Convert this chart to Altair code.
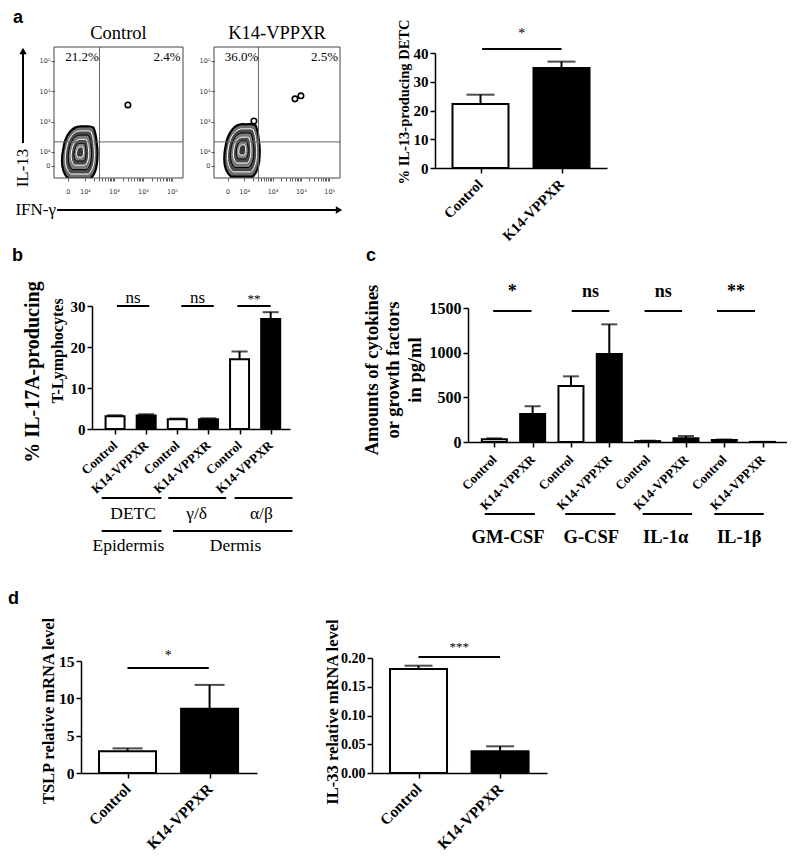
import altair as alt
import pandas as pd
import numpy as np

SERIF = "Liberation Serif"
SANS = "Liberation Sans"

# ---------------- data ----------------
groups2 = ["Control", "K14-VPPXR"]
bar_fills2 = ["white", "black"]

# panel a (bar)
a_vals = [22.3, 34.8]
a_hi = [25.5, 37.0]
# panel a (flow)
flow_pct_ctrl = ["21.2%", "2.4%"]
flow_pct_k14 = ["36.0%", "2.5%"]
flow_pct_x = [1.9, 4.83]
flow_pct_y = [5.13, 5.13]
flow_major = [1.41, 2, 3, 4, 5]
flow_major_lab = ["0", "10²", "10³", "10⁴", "10⁵"]
flow_ymajor = [1.54, 2, 3, 4, 5]
blob_ctrl = (1.83, 2.0)
blob_k14 = (1.93, 2.07)
blob_sizes = [2900, 1950, 1250, 700, 330, 110]
blob_fill = ["#6e6e6e", "#4a4a4a", "#7a7a7a", "#4a4a4a", "#808080", "#3a3a3a"]
blob_stroke = ["black", "white", "black", "white", "black", "white"]
blob_sw = [2.2, 1.0, 1.0, 1.0, 1.0, 1.0]
small_ctrl_x = [3.48]
small_ctrl_y = [3.55]
small_k14_x = [3.79, 4.0, 2.34]
small_k14_y = [3.75, 3.85, 3.02]
quad_x = 2.5
quad_y = 2.33

# panel b
b_labels = ["Control", "K14-VPPXR"] * 3
b_vals = [3.1, 3.3, 2.4, 2.4, 17.0, 26.8]
b_hi = [3.35, 3.6, 2.55, 2.6, 18.9, 28.5]
b_fills = ["white", "black"] * 3
b_sig_x1 = [0.06, 2.13, 3.93]
b_sig_x2 = [1.1, 3.17, 5.0]
b_sig_lab = ["ns", "ns", "**"]
b_sig_fs = [17, 17, 13]
b_g1_x1 = [-0.43, 1.71, 3.84]
b_g1_x2 = [1.49, 3.57, 5.7]
b_g1_lab = ["DETC", "γ/δ", "α/β"]
b_g1_tx = [0.58, 2.62, 4.7]
b_g2_x1 = [-0.43, 1.86]
b_g2_x2 = [1.49, 5.7]
b_g2_lab = ["Epidermis", "Dermis"]
b_g2_tx = [0.43, 3.87]

# panel c
c_labels = ["Control", "K14-VPPXR"] * 4
c_vals = [30, 313, 627, 985, 10, 41, 22, 1]
c_hi = [41, 399, 735, 1317, 15, 67, 28, 1]
c_fills = ["white", "black"] * 4
c_sig_x1 = [-0.03, 2.02, 3.92, 5.81]
c_sig_x2 = [0.97, 3.0, 4.9, 6.8]
c_sig_lab = ["*", "ns", "ns", "**"]
c_sig_fs = [18, 18, 18, 18]
c_g_x1 = [-0.25, 1.85, 3.87, 5.74]
c_g_x2 = [1.06, 3.16, 5.16, 7.03]
c_g_lab = ["GM-CSF", "G-CSF", "IL-1α", "IL-1β"]
c_g_tx = [0.36, 2.53, 4.47, 6.39]

# panel d
tslp_vals = [2.9, 8.6]
tslp_hi = [3.3, 11.8]
il33_vals = [0.181, 0.0377]
il33_hi = [0.1866, 0.0464]

one = pd.DataFrame({"k": [0]})


def text_mark(text, x, y, size, weight="normal", angle=0, align="center",
              baseline="middle", font=SERIF):
    kw = dict(text=text, fontSize=size, fontWeight=weight, align=align,
              baseline=baseline, font=font, color="black")
    if angle:
        kw["angle"] = angle
    return alt.Chart(one).mark_text(**kw).encode(x=alt.value(x), y=alt.value(y))


def spacer(width, top=0, bottom=1, label=None, lx=0, ly=0):
    layers = [alt.Chart(one).mark_rule(opacity=0).encode(
        x=alt.value(0), y=alt.value(top), y2=alt.value(bottom))]
    if label:
        layers.append(text_mark(label, lx, ly, 18, "bold", align="left", font=SANS))
    return alt.layer(*layers).properties(width=width, height=1)


def bar_panel(vals, his, labels, fills, width, height, top, ydom, yticks, yfmt,
              ysize, xdom, bar_w, cap_w, lsize, langle, lpad):
    n = len(vals)
    df = pd.DataFrame({"pos": list(range(n)), "val": vals, "hi": his, "fill": fills})
    expr = "[" + ",".join("'%s'" % l for l in labels) + "][datum.value]"
    xs = alt.Scale(domain=xdom, nice=False, zero=False)
    ys = alt.Scale(domain=ydom, range=[height, top], nice=False, zero=False)
    xax = alt.Axis(values=list(range(n)), labelExpr=expr, labelAngle=langle,
                   labelAlign="right", labelBaseline="middle", labelFontSize=lsize,
                   labelPadding=lpad, tickSize=5, title=None, labelOverlap=False,
                   labelBound=False, labelFlush=False)
    yax = alt.Axis(values=yticks, format=yfmt, labelFontSize=ysize, tickSize=5,
                   labelPadding=2, title=None, labelOverlap=False, labelFlush=False)
    X = alt.X("pos:Q", scale=xs, axis=xax, title=None)
    base = alt.Chart(df)
    err = base.mark_rule(strokeWidth=2, color="black").encode(
        x=X, y=alt.Y("val:Q", scale=ys, axis=yax, title=None), y2="hi:Q")
    bars = base.mark_bar(size=bar_w, stroke="black", strokeWidth=2).encode(
        x=X, y=alt.Y("val:Q", scale=ys, axis=yax, title=None), y2=alt.datum(0),
        fill=alt.Fill("fill:N", scale=None))
    cap = base.mark_tick(size=cap_w, thickness=2, color="black", orient="horizontal").encode(
        x=X, y=alt.Y("hi:Q", scale=ys, axis=yax, title=None))
    return [err, bars, cap], xs, xax


def sig_layers(xs, xax, x1, x2, labs, fss, line_y, text_y, weight="normal", baseline="middle"):
    df = pd.DataFrame({"x1": x1, "x2": x2, "tx": [(p + q) / 2 for p, q in zip(x1, x2)],
                       "lab": labs, "fs": fss})
    rule = alt.Chart(df).mark_rule(strokeWidth=2, color="black").encode(
        x=alt.X("x1:Q", scale=xs, axis=xax, title=None), x2="x2:Q", y=alt.value(line_y))
    txt = alt.Chart(df).mark_text(font=SERIF, fontWeight=weight, baseline=baseline,
                                  color="black").encode(
        x=alt.X("tx:Q", scale=xs, axis=xax, title=None), y=alt.value(text_y), text="lab:N",
        size=alt.Size("fs:Q", scale=None))
    return [rule, txt]


def group_layers(xs, xax, x1, x2, labs, tx, line_y, text_y, size, weight):
    df = pd.DataFrame({"x1": x1, "x2": x2, "tx": tx, "lab": labs})
    rule = alt.Chart(df).mark_rule(strokeWidth=2, color="black").encode(
        x=alt.X("x1:Q", scale=xs, axis=xax, title=None), x2="x2:Q", y=alt.value(line_y))
    txt = alt.Chart(df).mark_text(font=SERIF, fontWeight=weight, fontSize=size,
                                  baseline="middle", color="black").encode(
        x=alt.X("tx:Q", scale=xs, axis=xax, title=None), y=alt.value(text_y), text="lab:N")
    return [rule, txt]


BLOB = ("M-0.42,1 C-0.72,0.75 -0.7,0.25 -0.62,-0.15 C-0.55,-0.6 -0.3,-0.98 0.05,-0.95 "
        "C0.25,-0.93 0.35,-1.0 0.5,-0.9 C0.62,-0.6 0.6,-0.4 0.64,-0.15 "
        "C0.67,0.35 0.62,0.8 0.38,1 Z")


def flow_panel(w, h, title, pcts, blob, sx, sy, extras=False):
    xs = alt.Scale(domain=[0.93, 5.38], nice=False, zero=False)
    ys = alt.Scale(domain=[1.14, 5.46], nice=False, zero=False)
    minor = []
    for d in [2, 3, 4]:
        for k in range(2, 10):
            minor.append(round(d + np.log10(k), 3))
    xvals = flow_major + minor
    labs = [str(s) for s in flow_major_lab]
    xexpr = ("indexof(%s, datum.value) >= 0 ? %s[indexof(%s, datum.value)] : ''"
             % (flow_major, labs, flow_major))
    yexpr = ("indexof(%s, datum.value) >= 0 ? %s[indexof(%s, datum.value)] : ''"
             % (flow_ymajor, labs, flow_ymajor))
    common = dict(domain=False, labelFont="DejaVu Sans", labelFontSize=6.5,
                  labelFontWeight="normal", labelColor="#333", tickColor="#333",
                  tickWidth=0.8, tickSize=3, title=None, labelOverlap=False,
                  labelBound=False, labelFlush=False)
    xax = alt.Axis(values=xvals, labelExpr=xexpr, labelPadding=7, **common)
    yax = alt.Axis(values=flow_ymajor, labelExpr=yexpr, labelPadding=1, **common)
    X = lambda f: alt.X(f, scale=xs, axis=xax, title=None)
    Y = lambda f: alt.Y(f, scale=ys, axis=yax, title=None)

    bdf = pd.DataFrame({"x": [blob[0]] * len(blob_sizes), "y": [blob[1]] * len(blob_sizes),
                        "sz": blob_sizes, "fc": blob_fill, "sc": blob_stroke, "sw": blob_sw})
    blobs = alt.Chart(bdf).mark_point(shape=BLOB, filled=True, opacity=1, clip=True).encode(
        x=X("x:Q"), y=Y("y:Q"),
        size=alt.Size("sz:Q", scale=None), fill=alt.Fill("fc:N", scale=None),
        stroke=alt.Stroke("sc:N", scale=None), strokeWidth=alt.StrokeWidth("sw:Q", scale=None))
    sdf = pd.DataFrame({"x": sx, "y": sy})
    smalls = alt.Chart(sdf).mark_point(shape="circle", size=30, filled=False, color="black",
                                       strokeWidth=1.6, opacity=1).encode(
        x=X("x:Q"), y=Y("y:Q"))
    qdf = pd.DataFrame({"qx": [quad_x], "qy": [quad_y]})
    qv = alt.Chart(qdf).mark_rule(color="#666", strokeWidth=1).encode(x=X("qx:Q"))
    qh = alt.Chart(qdf).mark_rule(color="#666", strokeWidth=1).encode(y=Y("qy:Q"))
    pdf = pd.DataFrame({"x": flow_pct_x, "y": flow_pct_y, "lab": pcts})
    ptxt = alt.Chart(pdf).mark_text(font=SERIF, fontSize=13, color="black").encode(
        x=X("x:Q"), y=Y("y:Q"), text="lab:N")
    frame = alt.Chart(one).mark_rect(fillOpacity=0, stroke="#444", strokeWidth=1).encode(
        x=alt.value(0), x2=alt.value(w), y=alt.value(0), y2=alt.value(h))
    layers = [blobs, smalls, qv, qh, ptxt, frame,
              text_mark(title, w / 2, -14, 18.5)]
    if extras:
        layers += [
            alt.Chart(one).mark_rule(strokeWidth=2, color="black").encode(
                x=alt.value(-31), y=alt.value(5), y2=alt.value(96)),
            alt.Chart(one).mark_point(shape="triangle-up", filled=True, size=55,
                                      color="black", opacity=1).encode(
                x=alt.value(-31), y=alt.value(4)),
            text_mark("IL-13", -31, 121, 17, angle=270),
            alt.Chart(one).mark_rule(strokeWidth=2, color="black").encode(
                x=alt.value(3), x2=alt.value(284), y=alt.value(163)),
            alt.Chart(one).mark_point(shape="triangle-right", filled=True, size=55,
                                      color="black", opacity=1).encode(
                x=alt.value(285), y=alt.value(163)),
            text_mark("IFN-γ", 2, 163, 17, align="right"),
        ]
    return alt.layer(*layers).properties(width=w, height=h)


# ---------- row 1 ----------
flowC = flow_panel(129, 131, "Control", flow_pct_ctrl, blob_ctrl, small_ctrl_x, small_ctrl_y, extras=True)
flowK = flow_panel(126, 131, "K14-VPPXR", flow_pct_k14, blob_k14, small_k14_x, small_k14_y)

la, xsa, axa = bar_panel(a_vals, a_hi, groups2, bar_fills2, 172, 121, 6, [0, 40], [0, 10, 20, 30, 40],
                         "d", 15, [-0.5, 1.5], 56, 28, 14.5, 315, 9)
la += sig_layers(xsa, axa, [0.02], [1.0], ["*"], [14], 2, -13)
la += [text_mark("% IL-13-producing DETC", -30, 55, 14.5, "bold", angle=270)]
barA = alt.layer(*la).properties(width=172, height=121)

row1 = alt.hconcat(spacer(46, -39, 199, "a", 5, -29), flowC, spacer(31), flowK, spacer(95), barA,
                   spacing=0, bounds="flush")

# ---------- row 2 ----------
lb, xsb, axb = bar_panel(b_vals, b_hi, b_labels, b_fills, 198, 123, 0, [0, 30], [0, 10, 20, 30],
                         "d", 15, [-0.58, 5.46], 19, 16, 13, 318, 9)
lb += sig_layers(xsb, axb, b_sig_x1, b_sig_x2, b_sig_lab, b_sig_fs, 0, -3, baseline="alphabetic")
lb += group_layers(xsb, axb, b_g1_x1, b_g1_x2, b_g1_lab, b_g1_tx, 192, 208, 17.5, "normal")
lb += group_layers(xsb, axb, b_g2_x1, b_g2_x2, b_g2_lab, b_g2_tx, 225, 240, 17.5, "normal")
lb += [text_mark("% IL-17A-producing", -59, 66, 20, "bold", angle=270),
       text_mark("T-Lymphocytes", -34, 45, 16, "bold", angle=270)]
barB = alt.layer(*lb).properties(width=198, height=123)

lc, xsc, axc = bar_panel(c_vals, c_hi, c_labels, c_fills, 319, 136, 2, [0, 1500], [0, 500, 1000, 1500],
                         "d", 16, [-0.556, 7.506], 25, 16, 13, 315, 10)
lc += sig_layers(xsc, axc, c_sig_x1, c_sig_x2, c_sig_lab, c_sig_fs, 5, -9, weight="bold",
                 baseline="alphabetic")
lc += group_layers(xsc, axc, c_g_x1, c_g_x2, c_g_lab, c_g_tx, 208, 231, 18.5, "bold")
lc += [text_mark("Amounts of cytokines", -96, 64, 18.5, "bold", angle=270),
       text_mark("or growth factors", -75, 64, 18.5, "bold", angle=270),
       text_mark("in pg/ml", -53, 64, 18.5, "bold", angle=270),
       text_mark("c", -102, -50, 18, "bold", align="left", font=SANS)]
barC = alt.layer(*lc).properties(width=319, height=136)

row2 = alt.hconcat(spacer(84, -60, 284, "b", 4, -50), barB, spacer(178), barC,
                   spacing=0, bounds="flush")

# ---------- row 3 ----------
lt, xst, axt = bar_panel(tslp_vals, tslp_hi, groups2, bar_fills2, 176, 115, 3, [0, 15], [0, 5, 10, 15],
                         "d", 15.5, [-0.506, 1.517], 57, 30, 15.5, 315, 8)
lt += sig_layers(xst, axt, [0.0], [0.99], ["*"], [14], 10, -2)
lt += [text_mark("TSLP relative mRNA level", -32, 53, 16.5, "bold", angle=270)]
tslp = alt.layer(*lt).properties(width=176, height=115)

li, xsi, axi = bar_panel(il33_vals, il33_hi, groups2, bar_fills2, 175, 115, 0, [0, 0.2],
                         [0, 0.05, 0.1, 0.15, 0.2], ".2f", 14, [-0.509, 1.514], 57, 28, 15.5, 315, 8)
li += sig_layers(xsi, axi, [0.0], [1.0], ["***"], [13], -1, -11)
li += [text_mark("IL-33 relative mRNA level", -39.5, 54, 16.5, "bold", angle=270)]
il33 = alt.layer(*li).properties(width=175, height=115)

row3 = alt.hconcat(spacer(73, -64, 199, "d", 0, -59), tslp, spacer(115), il33,
                   spacing=0, bounds="flush")

chart = alt.vconcat(row1, row2, row3, spacing=0).properties(padding=0).configure_view(
    stroke=None).configure_axis(
    labelFont=SERIF, labelFontWeight="bold", labelColor="black", domainColor="black",
    tickColor="black", domainWidth=1.5, tickWidth=1.5, grid=False, labelOverlap=False)

chart.save("out.html", embed_options={"renderer": "svg", "actions": False})
